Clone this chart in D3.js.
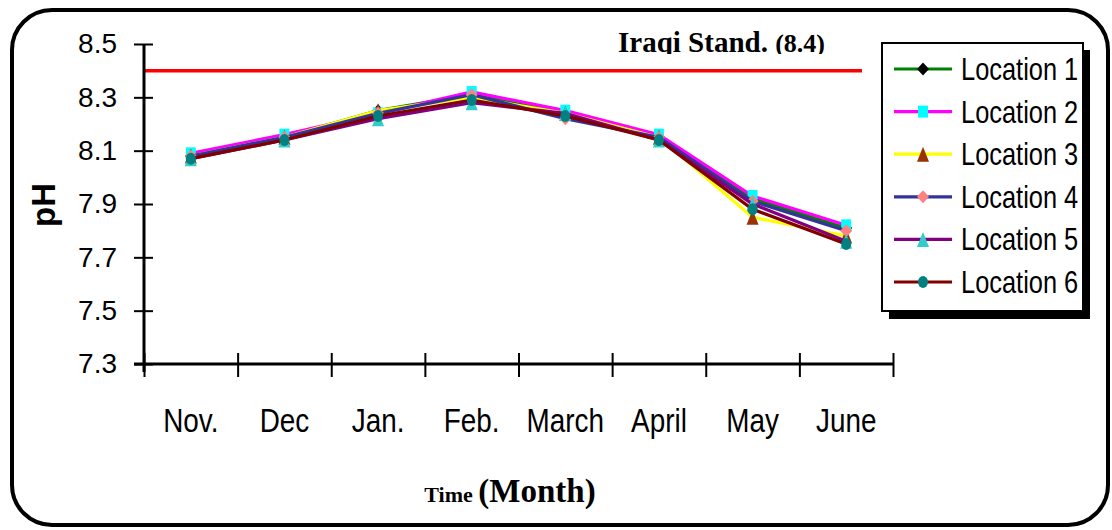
<!DOCTYPE html>
<html>
    <head>
        <title>pH by month</title>
        <script src="https://d3js.org/d3.v7.min.js"></script>
        <style>
            body { margin:0; background:#fff; }
            svg { display:block; }
        </style>
    </head>
    <body>
        <svg id="chart" width="1112" height="530"></svg>
    </body>
    <script>

        // data
        const months = ['Nov.', 'Dec', 'Jan.', 'Feb.', 'March', 'April', 'May', 'June'];
        const yTicks = [7.3, 7.5, 7.7, 7.9, 8.1, 8.3, 8.5];
        const standard = 8.4;

        const loc1 = [8.08, 8.15, 8.25, 8.31, 8.24, 8.15, 7.92, 7.81];
        const loc2 = [8.09, 8.16, 8.24, 8.32, 8.25, 8.16, 7.93, 7.82];
        const loc3 = [8.08, 8.15, 8.25, 8.30, 8.24, 8.15, 7.85, 7.78];
        const loc4 = [8.08, 8.15, 8.24, 8.31, 8.22, 8.15, 7.91, 7.80];
        const loc5 = [8.07, 8.14, 8.22, 8.28, 8.24, 8.14, 7.90, 7.76];
        const loc6 = [8.07, 8.14, 8.23, 8.29, 8.23, 8.14, 7.88, 7.75];

        const series = [
            {name:'Location 1', values:loc1, line:'#008000', marker:'#000000', shape:'diamond'},
            {name:'Location 2', values:loc2, line:'#ff00ff', marker:'#00ffff', shape:'square'},
            {name:'Location 3', values:loc3, line:'#ffff00', marker:'#993300', shape:'triangle'},
            {name:'Location 4', values:loc4, line:'#333399', marker:'#ff8080', shape:'diamond'},
            {name:'Location 5', values:loc5, line:'#800080', marker:'#33cccc', shape:'triangle'},
            {name:'Location 6', values:loc6, line:'#800000', marker:'#008080', shape:'circle'}
        ];

        const svg = d3.select('#chart');

        // outer rounded frame
        svg.append('rect')
            .attr('x', 12).attr('y', 10)
            .attr('width', 1096).attr('height', 515)
            .attr('rx', 40).attr('ry', 40)
            .style('fill', 'white')
            .style('stroke', 'black')
            .style('stroke-width', 4);

        const plotLeft = 144, plotRight = 893, plotTop = 44, plotBottom = 364;

        const x = d3.scaleBand().domain(months).range([plotLeft, plotRight]);
        const xEdge = d3.scaleLinear().domain([0, months.length]).range([plotLeft, plotRight]);
        const y = d3.scaleLinear().domain([7.3, 8.5]).range([plotBottom, plotTop]);

        // markers, a bit taller than wide like the original
        function markerPath(shape, w, h) {
            const p = d3.path();
            const a = w / 2, b = h / 2;
            if (shape === 'diamond') {
                p.moveTo(0, -b); p.lineTo(a, 0); p.lineTo(0, b); p.lineTo(-a, 0); p.closePath();
            } else if (shape === 'square') {
                p.rect(-a, -b, w, h);
            } else {
                p.moveTo(0, -b); p.lineTo(a, b); p.lineTo(-a, b); p.closePath();
            }
            return p.toString();
        }
        const markerSize = {diamond:[12, 13], square:[10, 12], triangle:[12, 15], circle:[10, 12]};

        function drawMarker(g, s, cx, cy) {
            const sz = markerSize[s.shape];
            if (s.shape === 'circle') {
                g.append('ellipse')
                    .attr('cx', cx).attr('cy', cy)
                    .attr('rx', sz[0] / 2).attr('ry', sz[1] / 2)
                    .style('fill', s.marker);
            } else {
                g.append('path')
                    .attr('transform', `translate(${cx},${cy})`)
                    .attr('d', markerPath(s.shape, sz[0], sz[1]))
                    .style('fill', s.marker);
            }
        }

        // standard line
        svg.append('line')
            .attr('x1', plotLeft).attr('x2', 862)
            .attr('y1', y(standard)).attr('y2', y(standard))
            .style('stroke', '#ff0000')
            .style('stroke-width', 3.5);

        // title, cut at the bottom like the original
        svg.append('clipPath').attr('id', 'titleClip')
            .append('rect').attr('x', 500).attr('y', 0).attr('width', 400).attr('height', 54);
        const title = svg.append('text')
            .attr('x', 618).attr('y', 52)
            .attr('clip-path', 'url(#titleClip)')
            .style('font-family', '"Liberation Serif", "Times New Roman", serif')
            .style('font-weight', 'bold');
        title.append('tspan').style('font-size', '29px').text('Iraqi Stand. ');
        title.append('tspan').style('font-size', '26px').text('(8.4)');

        // y axis
        const yAxis = svg.append('g')
            .attr('transform', `translate(${plotLeft},0)`)
            .call(d3.axisLeft(y).tickValues(yTicks).tickFormat(d3.format('.1f')).tickSize(10).tickPadding(17));
        yAxis.select('.domain').remove();
        yAxis.selectAll('.tick line').attr('x1', -10).attr('x2', 9).style('stroke-width', 2);
        yAxis.selectAll('.tick text')
            .style('font-family', '"Liberation Sans", Arial, sans-serif')
            .style('font-size', '28px')
            .style('fill', 'black');
        svg.append('line')
            .attr('x1', plotLeft).attr('x2', plotLeft)
            .attr('y1', plotTop).attr('y2', plotBottom + 8)
            .style('stroke', 'black').style('stroke-width', 3);

        // x axis: ticks at category edges, labels at centres
        const xAxis = svg.append('g')
            .attr('transform', `translate(0,${plotBottom})`)
            .call(d3.axisBottom(xEdge).ticks(months.length).tickFormat('').tickSize(12));
        xAxis.select('.domain').remove();
        xAxis.selectAll('.tick line').attr('y1', -11).attr('y2', 13).style('stroke-width', 2);
        svg.append('line')
            .attr('x1', plotLeft - 10).attr('x2', plotRight)
            .attr('y1', plotBottom).attr('y2', plotBottom)
            .style('stroke', 'black').style('stroke-width', 3);

        svg.append('g')
            .selectAll('text')
            .data(months)
            .join('text')
            .attr('transform', d => `translate(${x(d) + x.bandwidth() / 2},432) scale(0.82,1)`)
            .attr('text-anchor', 'middle')
            .style('font-family', '"Liberation Sans", Arial, sans-serif')
            .style('font-size', '34px')
            .text(d => d);

        // axis titles
        svg.append('text')
            .attr('transform', 'translate(55,205) rotate(-90)')
            .attr('text-anchor', 'middle')
            .style('font-family', '"Liberation Sans", Arial, sans-serif')
            .style('font-weight', 'bold')
            .style('font-size', '33px')
            .text('pH');

        const xTitle = svg.append('text')
            .attr('x', 510).attr('y', 502)
            .attr('text-anchor', 'middle')
            .style('font-family', '"Liberation Serif", "Times New Roman", serif')
            .style('font-weight', 'bold');
        xTitle.append('tspan').style('font-size', '22px').text('Time ');
        xTitle.append('tspan').style('font-size', '33px').text('(Month)');

        // series lines and markers
        const line = d3.line()
            .x((d, i) => x(months[i]) + x.bandwidth() / 2)
            .y(d => y(d));

        series.forEach(s => {
            const g = svg.append('g');
            g.append('path')
                .datum(s.values)
                .attr('d', line)
                .style('fill', 'none')
                .style('stroke', s.line)
                .style('stroke-width', 3.2);
            s.values.forEach((v, i) => drawMarker(g, s, x(months[i]) + x.bandwidth() / 2, y(v)));
        });

        // legend with drop shadow
        const lg = svg.append('g');
        lg.append('rect')
            .attr('x', 889).attr('y', 50).attr('width', 201).attr('height', 269)
            .style('fill', 'black');
        lg.append('rect')
            .attr('x', 882).attr('y', 43).attr('width', 201).attr('height', 268)
            .style('fill', 'white')
            .style('stroke', 'black')
            .style('stroke-width', 2);

        series.forEach((s, i) => {
            const cy = 69 + i * 42.6;
            lg.append('line')
                .attr('x1', 894).attr('x2', 952)
                .attr('y1', cy).attr('y2', cy)
                .style('stroke', s.line)
                .style('stroke-width', 3.2);
            drawMarker(lg, s, 923, cy);
            lg.append('text')
                .attr('transform', `translate(961,${cy + 11}) scale(0.82,1)`)
                .style('font-family', '"Liberation Sans", Arial, sans-serif')
                .style('font-size', '31px')
                .text(s.name);
        });

    </script>
</html>
